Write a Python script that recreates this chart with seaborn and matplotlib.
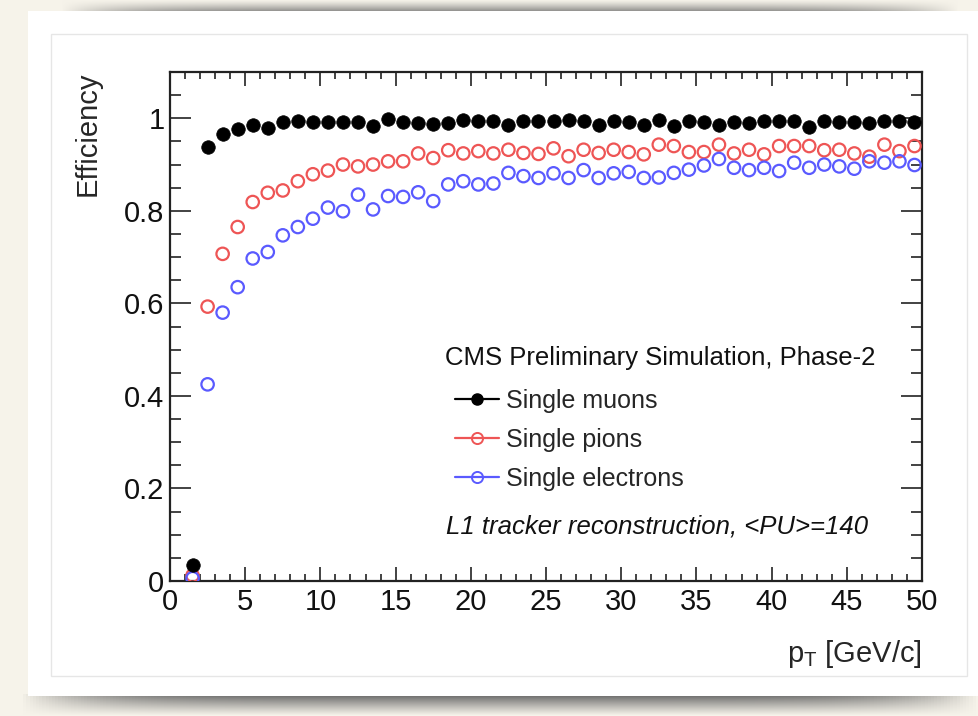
import numpy as np
import pandas as pd
import seaborn as sns
import matplotlib.pyplot as plt
from matplotlib.lines import Line2D
from matplotlib.patches import Rectangle
from matplotlib.ticker import MultipleLocator

# Data (bin centres 1.5 ... 49.5 GeV/c)
pt_bins = np.arange(1.5, 50.0, 1.0)

muons = [0.034, 0.938, 0.966, 0.976, 0.986, 0.979, 0.991, 0.994, 0.991, 0.991,
         0.993, 0.991, 0.984, 0.999, 0.991, 0.990, 0.988, 0.990, 0.997, 0.994,
         0.994, 0.986, 0.994, 0.994, 0.995, 0.997, 0.994, 0.986, 0.994, 0.991,
         0.986, 0.997, 0.984, 0.994, 0.991, 0.986, 0.991, 0.990, 0.994, 0.994,
         0.995, 0.981, 0.994, 0.991, 0.991, 0.990, 0.994, 0.994, 0.991]

pions = [0.012, 0.593, 0.707, 0.765, 0.819, 0.839, 0.844, 0.864, 0.879, 0.887,
         0.900, 0.896, 0.900, 0.907, 0.907, 0.924, 0.914, 0.931, 0.924, 0.929,
         0.924, 0.932, 0.925, 0.923, 0.935, 0.918, 0.932, 0.925, 0.932, 0.927,
         0.922, 0.943, 0.940, 0.927, 0.927, 0.943, 0.924, 0.932, 0.922, 0.940,
         0.940, 0.940, 0.931, 0.932, 0.924, 0.917, 0.943, 0.929, 0.940]

electrons = [0.006, 0.425, 0.580, 0.635, 0.697, 0.711, 0.747, 0.765, 0.783, 0.807,
             0.799, 0.835, 0.803, 0.832, 0.830, 0.840, 0.821, 0.857, 0.864, 0.857,
             0.859, 0.882, 0.875, 0.871, 0.881, 0.871, 0.888, 0.871, 0.881, 0.884,
             0.871, 0.872, 0.882, 0.889, 0.898, 0.912, 0.893, 0.888, 0.893, 0.886,
             0.904, 0.893, 0.900, 0.896, 0.891, 0.907, 0.904, 0.907, 0.899]

labels = ["Single muons", "Single pions", "Single electrons"]
colors = ["black", "#ee5555", "#5a5aff"]

df = pd.DataFrame({"pt": pt_bins, labels[0]: muons, labels[1]: pions, labels[2]: electrons})

sns.set_style("ticks")
plt.rcParams["font.family"] = ["Liberation Sans", "DejaVu Sans"]
plt.rcParams["mathtext.fontset"] = "custom"
plt.rcParams["mathtext.rm"] = "Liberation Sans"
plt.rcParams["mathtext.it"] = "Liberation Sans:italic"

cream = np.array([0.965, 0.953, 0.918])
fig = plt.figure(figsize=(9.79, 7.16), dpi=100)
fig.patch.set_facecolor(cream)


def shadow_img(vert, n_x=300):
    # soft gray band that fades into the cream background
    horiz = np.clip(1 - np.abs(np.linspace(-1, 1, n_x)) ** 6, 0, 1)
    w = vert[:, None] * horiz[None, :]
    gray = np.array([0.4, 0.4, 0.4])
    return cream * (1 - w[..., None]) + gray * w[..., None]


# slide card and its shadows
bot = fig.add_axes([20/979, 0, 959/979, 22/716], zorder=-3)
bot.imshow(shadow_img(np.linspace(1.0, 0.0, 22) ** 1.1), aspect="auto")
bot.axis("off")
top = fig.add_axes([60/979, 1 - 12/716, 900/979, 12/716], zorder=-3)
top.imshow(shadow_img(np.linspace(0.05, 0.8, 12) ** 1.3), aspect="auto")
top.axis("off")
fig.patches.append(Rectangle((28/979, 1 - 696/716), 1, 685/716, transform=fig.transFigure,
                             facecolor="white", edgecolor="none", zorder=-2))
fig.patches.append(Rectangle((51/979, 1 - 676/716), 916/979, 642/716, transform=fig.transFigure,
                             facecolor="none", edgecolor="#e6e6e6", lw=1, zorder=-1))

ax = fig.add_axes([170/979, 1 - 581/716, 752/979, 509/716], zorder=2)

sns.scatterplot(data=df, x="pt", y=labels[0], ax=ax, marker="o", s=95,
                color=colors[0], edgecolor=colors[0], linewidth=0.5, zorder=5)
for lab, col in zip(labels[1:], colors[1:]):
    sns.scatterplot(data=df, x="pt", y=lab, ax=ax, marker="o", s=80,
                    facecolors="none", edgecolor=col, linewidth=1.6, zorder=4)

ax.set_xlim(0, 50)
ax.set_ylim(0, 1.1)
ax.xaxis.set_major_locator(MultipleLocator(5))
ax.xaxis.set_minor_locator(MultipleLocator(1))
ax.yaxis.set_minor_locator(MultipleLocator(0.05))
ax.set_yticks([0, 0.2, 0.4, 0.6, 0.8, 1.0])
ax.set_yticklabels(["0", "0.2", "0.4", "0.6", "0.8", "1"])

for s in ax.spines.values():
    s.set_linewidth(1.6)
    s.set_color("#222222")
ax.tick_params(axis="x", which="major", direction="in", length=10, width=1.2,
               top=True, labelsize=21, pad=5, colors="#222222", labelcolor="#111111")
ax.tick_params(axis="x", which="minor", direction="in", length=5, width=1.2, top=True,
               colors="#222222")
ax.tick_params(axis="y", which="major", direction="in", length=15, width=1.2,
               right=True, labelsize=21, pad=4, colors="#222222", labelcolor="#111111")
ax.tick_params(axis="y", which="minor", direction="in", length=8, width=1.2, right=True,
               colors="#222222")

ax.set_xlabel(r"$\mathrm{p_{T}}$ [GeV/c]", fontsize=21, ha="right", x=1.0, labelpad=16)
ax.set_ylabel("Efficiency", fontsize=21, ha="right", y=1.0, labelpad=16)

ax.text(0.366, 0.438, "CMS Preliminary Simulation, Phase-2", transform=ax.transAxes,
        fontsize=18.5, va="center", ha="left", color="#111111")
ax.text(0.367, 0.108, "L1 tracker reconstruction, <PU>=140", transform=ax.transAxes,
        fontsize=18.5, va="center", ha="left", style="italic", color="#111111")

handles = [
    Line2D([], [], color=colors[0], marker="o", markersize=8, lw=1.6),
    Line2D([], [], color=colors[1], marker="o", markersize=8, lw=1.6,
           markerfacecolor="none", markeredgewidth=1.4),
    Line2D([], [], color=colors[2], marker="o", markersize=8, lw=1.6,
           markerfacecolor="none", markeredgewidth=1.4),
]
ax.legend(handles, labels, loc="upper left", bbox_to_anchor=(0.379, 0.377),
          frameon=False, fontsize=18, handlelength=1.75, handletextpad=0.3,
          labelspacing=0.6, borderpad=0, borderaxespad=0)

fig.savefig("out.png", dpi=100, facecolor=fig.get_facecolor())
